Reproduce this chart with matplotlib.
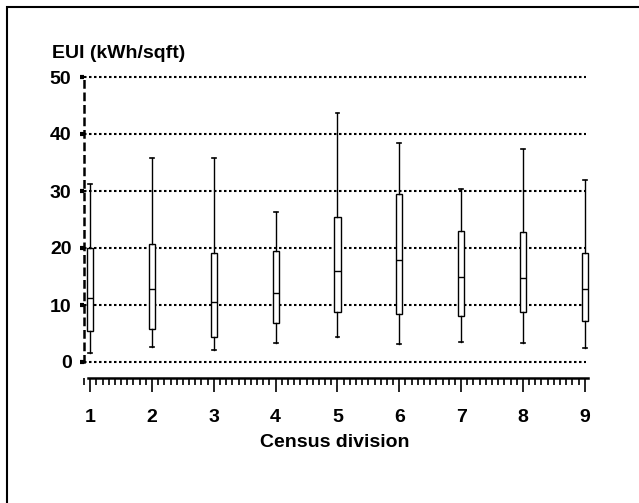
import matplotlib.pyplot as plt
from matplotlib.patches import Rectangle
from matplotlib.ticker import MultipleLocator

plt.rcParams['font.family'] = ['Liberation Sans', 'DejaVu Sans']

# census divisions and box statistics (EUI, kWh/sqft)
divisions = [1, 2, 3, 4, 5, 6, 7, 8, 9]
whisker_low = [1.6, 2.6, 2.1, 3.3, 4.4, 3.2, 3.5, 3.3, 2.5]
q1 = [5.5, 5.8, 4.4, 6.8, 8.8, 8.4, 8.1, 8.8, 7.2]
median = [11.2, 12.8, 10.5, 12.1, 16.0, 17.9, 14.9, 14.7, 12.8]
q3 = [20.0, 20.7, 19.1, 19.5, 25.5, 29.5, 23.0, 22.8, 19.1]
whisker_high = [31.2, 35.8, 35.8, 26.3, 43.7, 38.4, 30.4, 37.4, 31.9]
y_ticks = [0, 10, 20, 30, 40, 50]

fig = plt.figure(figsize=(6.39, 5.03), dpi=100)
fig.patches.append(Rectangle((7 / 639, -0.05), 1.1, 1 - 7 / 503 + 0.05,
                             transform=fig.transFigure, fill=False,
                             edgecolor='black', linewidth=1.5))

ax = fig.add_axes([84 / 639, 1 - 362 / 503, 502 / 639, 285 / 503])

stats = []
for i in range(len(divisions)):
    stats.append({'whislo': whisker_low[i], 'q1': q1[i], 'med': median[i],
                  'q3': q3[i], 'whishi': whisker_high[i], 'fliers': []})

parts = ax.bxp(stats, positions=divisions, widths=0.1, showfliers=False,
               patch_artist=True,
               boxprops=dict(facecolor='white', edgecolor='black', linewidth=1),
               medianprops=dict(color='black', linewidth=1),
               whiskerprops=dict(color='black', linewidth=1),
               capprops=dict(color='black', linewidth=1.2),
               capwidths=0.06, zorder=3)
for key in parts:
    for artist in parts[key]:
        artist.set_clip_on(False)

# dotted grid lines
for y in y_ticks:
    ax.axhline(y, color='black', linestyle=(0, (1.2, 1.2)), linewidth=1.5,
               clip_on=False, zorder=1)

ax.set_xlim(0.9, 9.02)
ax.set_ylim(0, 50)

ax.spines['top'].set_visible(False)
ax.spines['right'].set_visible(False)
ax.spines['left'].set_linestyle((0, (2.5, 2.5)))
ax.spines['left'].set_linewidth(1.8)
ax.spines['bottom'].set_position(('outward', 11.5))
ax.spines['bottom'].set_bounds(0.97, 9.05)
ax.spines['bottom'].set_linewidth(1.8)

ax.set_yticks(y_ticks)
ax.set_yticklabels([str(v) for v in y_ticks], fontsize=14, fontweight='bold')
ax.tick_params(axis='y', length=3, width=3, pad=6)

ax.set_xticks(divisions)
ax.set_xticklabels([str(d) for d in divisions], fontsize=14, fontweight='bold')
ax.xaxis.set_minor_locator(MultipleLocator(0.1))
ax.tick_params(axis='x', which='major', length=10, width=1.2, pad=12)
ax.tick_params(axis='x', which='minor', length=5, width=1.2)

ax.set_xlabel('Census division', fontsize=14, fontweight='bold', labelpad=6)
fig.text(52 / 639, 1 - 53 / 503, 'EUI (kWh/sqft)', fontsize=14,
         fontweight='bold', va='center', ha='left')

fig.savefig('out.png', dpi=100)
